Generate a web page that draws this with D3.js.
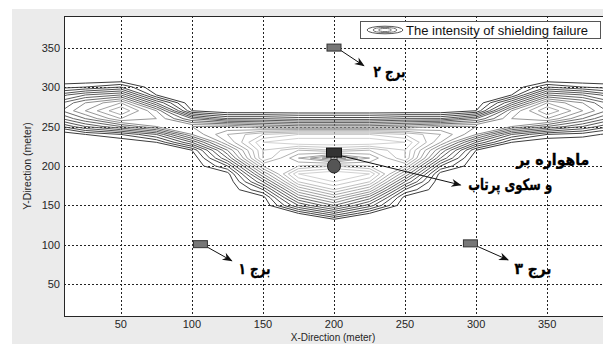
<!DOCTYPE html>
<html>
<head>
<meta charset="utf-8">
<script src="https://cdn.jsdelivr.net/npm/d3@7"></script>
<style>
  html, body { margin: 0; padding: 0; background: #fff; }
  svg { display: block; }
  text { font-family: "Liberation Sans", Arial, sans-serif; }
  .fa { font-family: "DejaVu Sans", sans-serif; font-weight: bold; stroke: #000; stroke-width: 0.35px; }
</style>
</head>
<body>
<div id="ContourPlot"></div>
<script>
// grid of the field (x in meter, y in meter, rows from top to bottom)
const gridX = [-25, 0, 25, 50, 75, 100, 125, 150, 175, 200, 225, 250, 275, 300, 325, 350, 375, 400, 425];
const gridY = [320, 310, 300, 290, 280, 270, 260, 250, 240, 230, 220, 210, 200, 190, 180, 170, 160, 150, 140, 130, 120];
const intensity = [
  [0, 0, 0, 0, 0, 0, 0, 0, 0, 0, 0, 0, 0, 0, 0, 0, 0, 0, 0],
  [0, 0, 0, 0, 0, 0, 0, 0, 0, 0, 0, 0, 0, 0, 0, 0, 0, 0, 0],
  [1, 1.5, 2, 3, 0, 0, 0, 0, 0, 0, 0, 0, 0, 0, 0, 3, 2, 1.5, 1],
  [3, 4, 6, 7, 1, 0, 0, 0, 0, 0, 0, 0, 0, 0, 1, 7, 6, 4, 3],
  [4, 6, 9, 11, 5, 0, 0, 0, 0, 0, 0, 0, 0, 0, 5, 11, 9, 6, 4],
  [5, 7, 10, 13, 9, 1, 0, 0, 0, 0, 0, 0, 0, 1, 9, 13, 10, 7, 5],
  [3, 5, 8, 11, 10, 6, 4, 4, 3.5, 3.5, 3.5, 4, 4, 6, 10, 11, 8, 5, 3],
  [1, 2, 5, 7, 9, 10, 10, 9, 8.5, 8.5, 8.5, 9, 10, 10, 9, 7, 5, 2.5, 1],
  [0, 0, 1, 2, 4, 9, 12, 14, 15, 15, 15, 14, 12, 9, 4, 2, 1.5, 0.5, 0],
  [0, 0, 0, 0, 1, 5, 11, 16, 17, 17, 17, 16, 11, 5, 1, 0, 0, 0, 0],
  [0, 0, 0, 0, 0, 1, 8, 15, 13, 14, 13, 15, 8, 1, 0, 0, 0, 0, 0],
  [0, 0, 0, 0, 0, 0, 6, 15, 11, 8, 11, 15, 6, 0, 0, 0, 0, 0, 0],
  [0, 0, 0, 0, 0, 0, 3, 12, 13, 14, 13, 12, 3, 0, 0, 0, 0, 0, 0],
  [0, 0, 0, 0, 0, 0, 0.5, 9, 16, 17, 16, 9, 0.5, 0, 0, 0, 0, 0, 0],
  [0, 0, 0, 0, 0, 0, 0, 6, 14, 16, 14, 6, 0, 0, 0, 0, 0, 0, 0],
  [0, 0, 0, 0, 0, 0, 0, 3, 11, 14, 11, 3, 0, 0, 0, 0, 0, 0, 0],
  [0, 0, 0, 0, 0, 0, 0, 0.5, 8, 11, 7.5, 0.5, 0, 0, 0, 0, 0, 0, 0],
  [0, 0, 0, 0, 0, 0, 0, 0, 5, 8, 4.5, 0, 0, 0, 0, 0, 0, 0, 0],
  [0, 0, 0, 0, 0, 0, 0, 0, 1, 4, 1, 0, 0, 0, 0, 0, 0, 0, 0],
  [0, 0, 0, 0, 0, 0, 0, 0, 0, 0, 0, 0, 0, 0, 0, 0, 0, 0, 0],
  [0, 0, 0, 0, 0, 0, 0, 0, 0, 0, 0, 0, 0, 0, 0, 0, 0, 0, 0]
];
const levels = [1, 2, 3, 4, 5, 6, 7, 8, 9, 10, 11, 12, 13, 14, 15, 16, 17];

const xTicks = [50, 100, 150, 200, 250, 300, 350];
const yTicks = [50, 100, 150, 200, 250, 300, 350];

// towers and the satellite launcher (meter)
const towerNames = ["برج ۱", "برج ۲", "برج ۳"];
const towerX = [106, 200, 296];
const towerY = [101, 350, 102];
const arrowEndX = [128, 221, 322.5];
const arrowEndY = [80, 327, 81];
const labelX = [144, 239, 340];
const labelY = [63, 312.5, 63];
const labelWidth = [32, 32, 37];

const launcher = { x: 200, y: 217, bodyY: 200 };
const launcherArrow = { x1: 205.6, y1: 212.7, x2: 289, y2: 176 };
const launcherLines = ["ماهواره بر", "و سکوی پرتاب"];
const launcherLabelX = [354, 324];
const launcherLabelY = [201, 170];
const launcherWidth = [73, 84];

const legendText = "The intensity of shielding failure";

// plot config
let plotName = "ContourPlot";
let width = 603;
let height = 344;
let mLeft = 64, mRight = 604, mTop = 16, mBottom = 316;

let x = d3.scaleLinear().domain([10, 390]).range([mLeft, mRight]);
let y = d3.scaleLinear().domain([10, 390]).range([mBottom, mTop]);

let color = d3.scaleLinear()
  .domain([1, 8, 9, 17])
  .range(["#3c3c3c", "#6c6c6c", "#8e8e8e", "#dcdcdc"]);

let svg = d3.select("#" + plotName)
  .append("svg")
  .attr("width", width)
  .attr("height", height);

/* figure background */
svg.append("rect").attr("width", width).attr("height", height).attr("fill", "#fff");
svg.append("rect")
  .attr("x", 12).attr("y", 9)
  .attr("width", width - 12).attr("height", height - 9)
  .attr("fill", "#ebebeb");
svg.append("rect")
  .attr("x", mLeft).attr("y", mTop)
  .attr("width", mRight - mLeft).attr("height", mBottom - mTop)
  .attr("fill", "#fff");

svg.append("clipPath").attr("id", "plotClip")
  .append("rect")
  .attr("x", mLeft).attr("y", mTop)
  .attr("width", mRight - mLeft).attr("height", mBottom - mTop);

/* grid */
let grid = svg.append("g").attr("class", "grid")
  .attr("stroke", "#222").attr("stroke-width", 1)
  .attr("stroke-dasharray", "2,2");
grid.selectAll(".gx").data(xTicks).enter().append("line")
  .attr("x1", d => Math.round(x(d)) + 0.5).attr("x2", d => Math.round(x(d)) + 0.5)
  .attr("y1", mTop).attr("y2", mBottom);
grid.selectAll(".gy").data(yTicks).enter().append("line")
  .attr("y1", d => Math.round(y(d)) + 0.5).attr("y2", d => Math.round(y(d)) + 0.5)
  .attr("x1", mLeft).attr("x2", mRight);

/* contours */
let nx = gridX.length, ny = gridY.length;
let dx = gridX[1] - gridX[0], dy = gridY[0] - gridY[1];
let contours = d3.contours()
  .size([nx, ny])
  .thresholds(levels)(intensity.flat());

let proj = d3.geoTransform({
  point: function(gx, gy) {
    this.stream.point(
      x(gridX[0] + (gx - 0.5) * dx),
      y(gridY[0] - (gy - 0.5) * dy)
    );
  }
});
let path = d3.geoPath(proj);

svg.append("g")
  .attr("clip-path", "url(#plotClip)")
  .selectAll("path")
  .data(contours)
  .enter()
  .append("path")
  .attr("d", path)
  .attr("fill", "none")
  .attr("stroke", d => color(d.value))
  .attr("stroke-width", 1)
  .attr("stroke-linejoin", "round");

/* axes box */
let axisColor = "#262626";
svg.append("line").attr("x1", mLeft + 0.5).attr("x2", mLeft + 0.5)
  .attr("y1", mTop).attr("y2", mBottom + 0.5).attr("stroke", axisColor);
svg.append("line").attr("x1", mLeft).attr("x2", mRight)
  .attr("y1", mBottom + 0.5).attr("y2", mBottom + 0.5).attr("stroke", axisColor);
svg.append("line").attr("x1", mLeft).attr("x2", mRight)
  .attr("y1", mTop + 0.5).attr("y2", mTop + 0.5).attr("stroke", axisColor);

svg.selectAll(".xtick").data(xTicks).enter().append("text")
  .attr("x", d => x(d)).attr("y", 328)
  .attr("text-anchor", "middle")
  .attr("font-size", 11).attr("fill", axisColor)
  .text(d => d);
svg.selectAll(".ytick").data(yTicks).enter().append("text")
  .attr("x", 60).attr("y", d => y(d) + 4)
  .attr("text-anchor", "end")
  .attr("font-size", 11).attr("fill", axisColor)
  .text(d => d);

svg.append("text")
  .attr("x", 333).attr("y", 341)
  .attr("text-anchor", "middle")
  .attr("font-size", 10).attr("fill", axisColor)
  .text("X-Direction (meter)");
svg.append("text")
  .attr("transform", "translate(31," + (mTop + mBottom) / 2 + ") rotate(-90)")
  .attr("text-anchor", "middle")
  .attr("font-size", 10.5).attr("fill", axisColor)
  .text("Y-Direction (meter)");

/* arrow head */
svg.append("defs").append("marker")
  .attr("id", "head")
  .attr("viewBox", "-10 -5 12 10")
  .attr("markerWidth", 12).attr("markerHeight", 10)
  .attr("markerUnits", "userSpaceOnUse")
  .attr("refX", 0).attr("refY", 0)
  .attr("orient", "auto")
  .append("path")
  .attr("d", "M1,0 L-9,-4 L-6,0 L-9,4 Z")
  .attr("fill", "#111");

/* towers */
let towers = d3.range(towerNames.length);
svg.selectAll(".arrow").data(towers).enter().append("line")
  .attr("x1", i => x(towerX[i]) + 7).attr("y1", i => y(towerY[i]) + 3)
  .attr("x2", i => x(arrowEndX[i])).attr("y2", i => y(arrowEndY[i]))
  .attr("stroke", "#111").attr("stroke-width", 1)
  .attr("marker-end", "url(#head)");
svg.selectAll(".tower").data(towers).enter().append("rect")
  .attr("x", i => x(towerX[i]) - 7).attr("y", i => y(towerY[i]) - 3.5)
  .attr("width", 14).attr("height", 7)
  .attr("fill", "#777").attr("stroke", "#333");
svg.selectAll(".towerLabel").data(towers).enter().append("text")
  .attr("class", "fa")
  .attr("x", i => x(labelX[i]) - labelWidth[i] / 2).attr("y", i => y(labelY[i]))
  .attr("textLength", i => labelWidth[i])
  .attr("lengthAdjust", "spacingAndGlyphs")
  .attr("font-size", 15.5).attr("fill", "#000")
  .text(i => towerNames[i]);

/* satellite launcher */
svg.append("line")
  .attr("x1", x(launcherArrow.x1)).attr("y1", y(launcherArrow.y1))
  .attr("x2", x(launcherArrow.x2)).attr("y2", y(launcherArrow.y2))
  .attr("stroke", "#111").attr("marker-end", "url(#head)");
[-3, 3].forEach(o => {
  svg.append("line")
    .attr("x1", x(launcher.x) + o).attr("x2", x(launcher.x) + o)
    .attr("y1", y(launcher.y) + 4).attr("y2", y(launcher.bodyY) - 6)
    .attr("stroke", "#333");
});
svg.append("ellipse")
  .attr("cx", x(launcher.x)).attr("cy", y(launcher.bodyY))
  .attr("rx", 6.5).attr("ry", 7)
  .attr("fill", "#555").attr("stroke", "#222");
svg.append("rect")
  .attr("x", x(launcher.x) - 7.5).attr("y", y(launcher.y) - 4.5)
  .attr("width", 15).attr("height", 9)
  .attr("fill", "#333").attr("stroke", "#111");
svg.selectAll(".launcherLabel").data(launcherLines).enter().append("text")
  .attr("class", "fa")
  .attr("x", (d, i) => x(launcherLabelX[i]) - launcherWidth[i] / 2)
  .attr("y", (d, i) => y(launcherLabelY[i]))
  .attr("textLength", (d, i) => launcherWidth[i])
  .attr("lengthAdjust", "spacingAndGlyphs")
  .attr("font-size", 15.5).attr("fill", "#000")
  .text(d => d);

/* legend */
let legend = svg.append("g").attr("transform", "translate(360,21)");
legend.append("rect")
  .attr("x", 0.5).attr("y", 0.5).attr("width", 240).attr("height", 17)
  .attr("fill", "#fff").attr("stroke", "#555");
[[18, 3.8, "#555"], [12, 2.6, "#777"], [6.5, 1.6, "#777"]].forEach(e => {
  legend.append("ellipse")
    .attr("cx", 25).attr("cy", 9)
    .attr("rx", e[0]).attr("ry", e[1])
    .attr("fill", "none").attr("stroke", e[2]);
});
legend.append("text")
  .attr("x", 46).attr("y", 13.5)
  .attr("font-size", 13).attr("fill", "#111")
  .text(legendText);
</script>
</body>
</html>
